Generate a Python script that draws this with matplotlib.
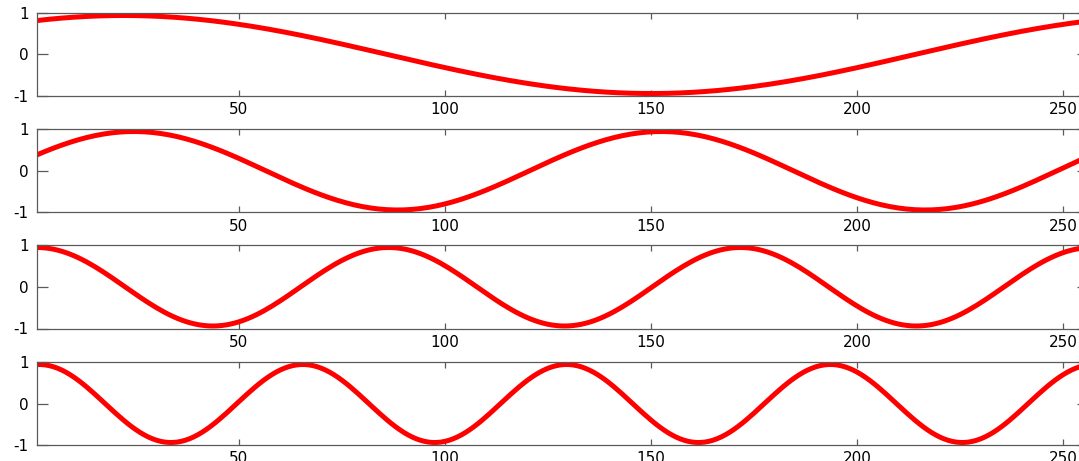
import numpy as np
import matplotlib
matplotlib.use("Agg")
import matplotlib.pyplot as plt

plt.rcParams['font.family'] = ['DejaVu Sans']

# Data: sampled index 1..256, four cosine components
# (period, peak position and peak height read from the picture)
n_samples = 256
periods = [256, 128, 256 / 3, 64]
peak_positions = [22, 24.5, 1, 1.5]
amplitudes = [0.94, 0.94, 0.94, 0.94]
xticks = [50, 100, 150, 200, 250]
yticks = [-1, 0, 1]

x = np.arange(1, n_samples + 1)

W, H = 1079, 461
fig = plt.figure(figsize=(W / 100, H / 100), dpi=100)

left_px, right_px = 37, 1088
panels_px = [(13, 96), (129, 212.5), (245, 328.5), (362, 445)]

for (top, bot), period, peak, amp in zip(panels_px, periods, peak_positions, amplitudes):
    ax = fig.add_axes([left_px / W, 1 - bot / H, (right_px - left_px) / W, (bot - top) / H])
    y = amp * np.cos(2 * np.pi * (x - peak) / period)
    ax.plot(x, y, color='#ff0000', lw=3.6, solid_capstyle='butt')
    ax.set_xlim(1, n_samples)
    ax.set_ylim(-1, 1)
    ax.set_xticks(xticks)
    ax.set_yticks(yticks)
    ax.set_yticklabels([str(t) for t in yticks])
    for s in ax.spines.values():
        s.set_color('#5a5a5a')
        s.set_linewidth(0.9)
    ax.tick_params(axis='both', direction='in', top=True, right=True, colors='#5a5a5a',
                   labelcolor='black', labelsize=11, width=0.9)
    ax.tick_params(axis='x', length=4.3, pad=4.5)
    ax.tick_params(axis='y', length=8, pad=6)

fig.savefig('out.png', dpi=100)
